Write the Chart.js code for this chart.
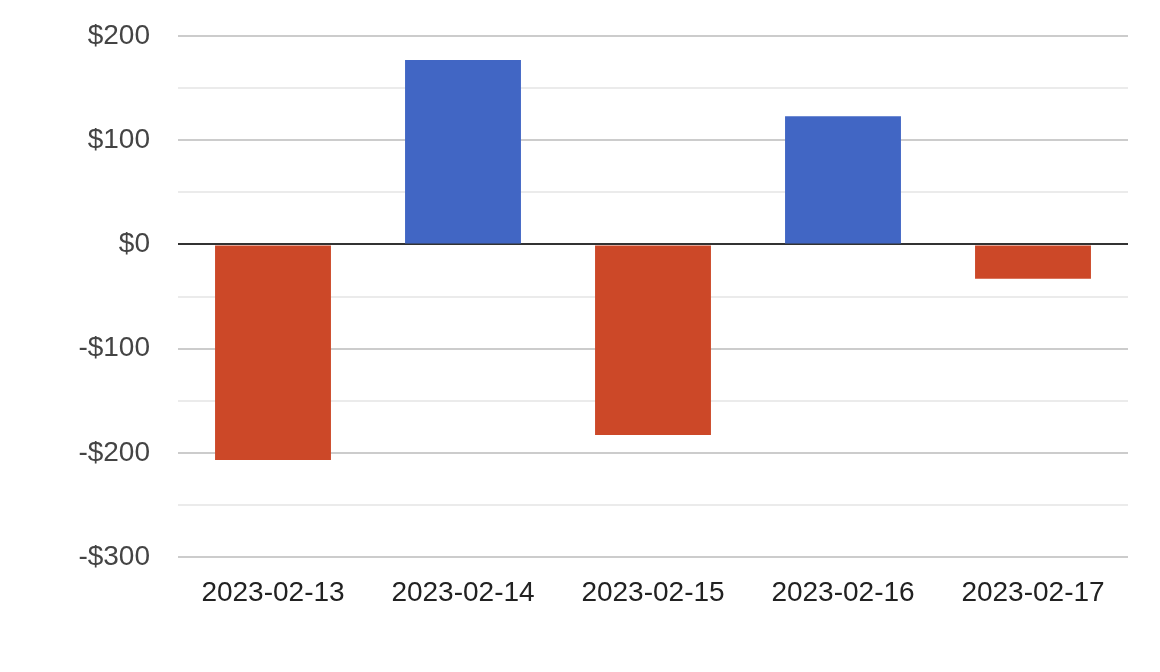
<!DOCTYPE html>
<html>
<head>
<meta charset="utf-8">
<script src="https://cdn.jsdelivr.net/npm/chart.js@4"></script>
<style>
  html, body { margin: 0; padding: 0; background: #fff; }
  #wrap { width: 1160px; height: 672px; }
</style>
</head>
<body>
<div id="wrap"><canvas id="myChart" width="1160" height="672"></canvas></div>
<script>
// daily profit / loss
const dates = ['2023-02-13', '2023-02-14', '2023-02-15', '2023-02-16', '2023-02-17'];
const amounts = [-207, 177, -183, 123, -33];
const yMin = -300;
const yMax = 200;

const up = '#4166c4';
const down = '#cc4828';

const data = {
    labels: dates,
    datasets: [{
        label: 'Amount',
        data: amounts,
        backgroundColor: amounts.map(v => v >= 0 ? up : down),
        borderWidth: 0,
        categoryPercentage: 1,
        barPercentage: 0.61
    }]
};

const config = {
    type: 'bar',
    data: data,
    options: {
        responsive: false,
        animation: false,
        layout: { padding: { left: 0, right: 32, top: 36, bottom: 0 } },
        plugins: {
            legend: { display: false },
            tooltip: { enabled: false }
        },
        scales: {
            x: {
                grid: { display: false, drawTicks: false },
                border: { display: false },
                ticks: {
                    color: '#222',
                    padding: 19,
                    maxRotation: 0,
                    font: { family: 'Arial, "Liberation Sans"', size: 28 }
                },
                afterFit: s => { s.height = 115; s.paddingLeft = 0; s.paddingRight = 0; }
            },
            y: {
                min: yMin,
                max: yMax,
                grid: {
                    drawTicks: false,
                    color: c => c.tick.value === 0 ? '#333333' : (c.tick.value % 100 === 0 ? '#cccccc' : '#ebebeb'),
                    lineWidth: 2
                },
                border: { display: false },
                ticks: {
                    stepSize: 50,
                    color: '#444',
                    padding: 28,
                    autoSkip: false,
                    font: { family: 'Arial, "Liberation Sans"', size: 28 },
                    callback: v => v % 100 !== 0 ? '' : (v < 0 ? '-$' + Math.abs(v) : '$' + v)
                },
                afterFit: s => { s.width = 178; s.paddingTop = 0; s.paddingBottom = 0; }
            }
        }
    }
};

new Chart(document.getElementById('myChart'), config);
</script>
</body>
</html>
